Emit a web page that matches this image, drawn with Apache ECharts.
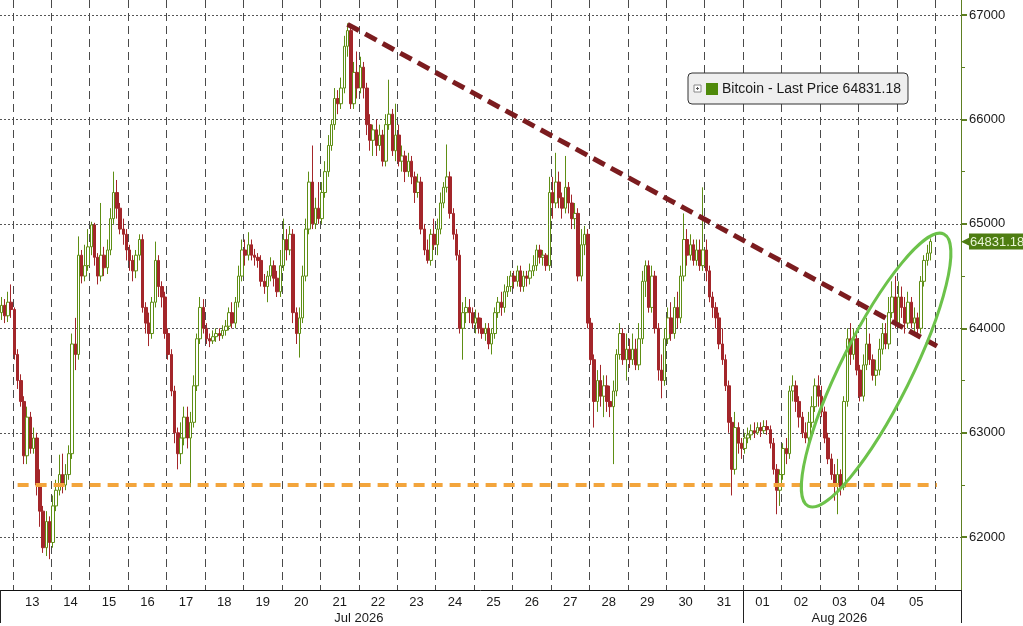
<!DOCTYPE html>
<html><head><meta charset="utf-8">
<script src="https://cdn.jsdelivr.net/npm/echarts@6/dist/echarts.min.js"></script>
<style>html,body{margin:0;padding:0;background:#fff}#c{width:1023px;height:626px}</style>
</head><body><div id="c"></div>
<script>
// 2-hour candles, each [open, close, low, high]
const jul12 = [[64150,64220,64080,64300],[64220,64120,64050,64280],[64120,64250,64060,64350],[64250,64180,64100,64420]];
const jul13 = [[64180,63750,63700,64200],[63750,63500,63420,63800],[63500,63300,63250,63560],[63300,62780,62700,63350],[62780,63150,62700,63250],[63150,62850,62800,63200],[62850,62950,62800,63050],[62950,62500,62400,63000],[62500,62250,62100,62650],[62250,61900,61850,62300],[61900,62150,61820,62250],[62150,61950,61790,62200]];
const jul14 = [[61950,62300,61900,62400],[62300,62450,62250,62550],[62450,62600,62400,62790],[62600,62500,62420,62800],[62500,62600,62450,62700],[62600,62800,62550,62880],[62800,63850,62750,63950],[63850,63750,63600,64100],[63750,64700,63700,64880],[64700,64500,64430,64750],[64500,64600,64450,64800],[64600,64780,64550,64950]];
const jul15 = [[64780,64990,64700,65020],[64990,64680,64600,65010],[64680,64500,64420,64720],[64500,64700,64450,65200],[64700,64580,64500,64780],[64580,64750,64520,64850],[64750,65050,64700,65150],[65050,65300,65000,65500],[65300,65150,65050,65420],[65150,64950,64900,65200],[64950,64900,64800,65050],[64900,64750,64650,64950]];
const jul16 = [[64750,64650,64550,64800],[64650,64550,64450,64700],[64550,64700,64480,64750],[64700,64850,64650,64900],[64850,64200,64150,64900],[64200,64050,63950,64250],[64050,63950,63830,64150],[63950,64250,63900,64300],[64250,64650,64200,64830],[64650,64400,64300,64700],[64400,64300,64200,64450],[64300,63950,63900,64350]];
const jul17 = [[63950,63750,63700,64000],[63750,63400,63350,63800],[63400,63000,62900,63450],[63000,62800,62650,63050],[62800,62950,62700,63100],[62950,63150,62880,63250],[63150,62950,62850,63250],[62950,63100,62480,63200],[63100,63450,63050,63550],[63450,63900,63400,63950],[63900,64200,63850,64300],[64200,64000,63950,64280]];
const jul18 = [[64000,63900,63850,64050],[63900,63880,63820,63950],[63880,63920,63850,63980],[63920,63950,63870,64000],[63950,63930,63880,64000],[63930,63980,63900,64030],[63980,64020,63930,64080],[64020,64150,63980,64200],[64150,64050,64000,64250],[64050,64250,64000,64300],[64250,64500,64200,64600],[64500,64750,64450,64850]];
const jul19 = [[64750,64700,64600,64850],[64700,64800,64650,64920],[64800,64700,64650,64850],[64700,64680,64600,64760],[64680,64650,64580,64720],[64650,64450,64400,64700],[64450,64400,64330,64520],[64400,64500,64250,64550],[64500,64600,64450,64680],[64600,64480,64400,64650],[64480,64350,64300,64550],[64350,64600,64300,64750]];
const jul20 = [[64600,64850,64550,65050],[64850,64750,64650,64950],[64750,64900,64700,64980],[64900,64150,64050,64950],[64150,63950,63850,64200],[63950,64100,63720,64200],[64100,64500,64050,64600],[64500,64950,64450,65050],[64950,65400,64900,65500],[65400,65000,64950,65750],[65000,65150,64950,65250],[65150,65050,65000,65400]];
const jul21 = [[65050,65300,65000,65400],[65300,65500,65250,65600],[65500,65750,65450,65850],[65750,65950,65700,66000],[65950,66200,65900,66300],[66200,66150,66050,66280],[66150,66300,66100,66400],[66300,66700,66250,66800],[66700,66850,66600,66920],[66850,66150,66100,66880],[66150,66450,66100,66550],[66450,66300,66200,66650]];
const jul22 = [[66300,66500,66250,66600],[66500,66300,66200,66550],[66300,65950,65850,66350],[65950,65800,65700,66050],[65800,65900,65650,65950],[65900,65750,65650,66000],[65750,65850,65700,65950],[65850,65600,65550,65900],[65600,65950,65550,66050],[65950,66050,65900,66380],[66050,65700,65650,66100],[65700,65850,65600,66150]];
const jul23 = [[65850,65600,65550,65950],[65600,65650,65500,65750],[65650,65500,65400,65700],[65500,65600,65450,65680],[65600,65450,65380,65650],[65450,65300,65200,65500],[65300,65400,65250,65480],[65400,64950,64900,65450],[64950,64750,64700,65000],[64750,64650,64620,64850],[64650,64900,64600,64950],[64900,64800,64750,65050]];
const jul24 = [[64800,64950,64700,65050],[64950,65200,64900,65300],[65200,65350,65150,65400],[65350,65450,65300,65760],[65450,65100,65050,65500],[65100,64900,64850,65150],[64900,64700,64650,64950],[64700,64000,63950,64750],[64000,64150,63700,64250],[64150,64200,64050,64300],[64200,64150,64050,64280],[64150,64050,64000,64200]];
const jul25 = [[64050,64100,63950,64180],[64100,64000,63950,64150],[64000,63950,63900,64100],[63950,64000,63880,64050],[64000,63850,63800,64050],[63850,63950,63750,64000],[63950,64150,63900,64200],[64150,64250,64100,64300],[64250,64200,64120,64350],[64200,64350,64150,64420],[64350,64400,64300,64500],[64400,64500,64350,64550]];
const jul26 = [[64500,64450,64380,64550],[64450,64550,64400,64600],[64550,64400,64350,64600],[64400,64500,64350,64550],[64500,64480,64400,64550],[64480,64550,64420,64620],[64550,64600,64500,64700],[64600,64750,64550,64800],[64750,64680,64620,64800],[64680,64700,64600,64750],[64700,64600,64550,64720],[64600,65300,64550,65450]];
const jul27 = [[65300,65200,65050,65450],[65200,65400,65150,65680],[65400,65250,65150,65500],[65250,65150,65050,65300],[65150,65350,65100,65650],[65350,65200,65100,65400],[65200,65050,64950,65280],[65050,65100,64950,65200],[65100,64500,64450,65150],[64500,64800,64450,64950],[64800,64900,64700,64980],[64900,64050,64000,64950]];
const jul28 = [[64050,63700,63650,64100],[63700,63300,63050,63750],[63300,63500,63200,63600],[63500,63350,63250,63650],[63350,63450,63150,63550],[63450,63300,63200,63550],[63300,63250,63150,63450],[63250,63400,62700,63500],[63400,63750,63350,63800],[63750,63950,63700,64050],[63950,63700,63650,64000],[63700,63800,63500,63950]];
const jul29 = [[63800,63700,63620,63900],[63700,63800,63650,63950],[63800,63650,63600,63900],[63650,63900,63600,64050],[63900,64450,63850,64550],[64450,64600,64300,64650],[64600,64200,64150,64650],[64200,64500,64150,64600],[64500,64000,63950,64550],[64000,63600,63500,64050],[63600,63500,63330,63750],[63500,63900,63450,64000]];
const jul30 = [[63900,64100,63850,64200],[64100,63950,63880,64250],[63950,64200,63900,64300],[64200,64100,64000,64350],[64100,64500,64050,64600],[64500,64850,64450,65100],[64850,64700,64600,64950],[64700,64800,64650,64900],[64800,64650,64600,64850],[64650,64750,64600,64850],[64750,64600,64550,64850],[64600,64750,64550,65350]];
const jul31 = [[64750,64550,64450,64850],[64550,64300,64250,64600],[64300,64200,64100,64350],[64200,64100,64000,64250],[64100,63850,63800,64150],[63850,63700,63650,64000],[63700,63450,63400,63750],[63450,63100,63000,63500],[63100,62650,62400,63150],[62650,63050,62600,63200],[63050,62900,62800,63100],[62900,62850,62750,62950]];
const aug01 = [[62850,62950,62800,63000],[62950,62980,62900,63050],[62980,63020,62930,63080],[63020,63000,62950,63100],[63000,63050,62980,63100],[63050,63020,62960,63100],[63020,63060,62990,63120],[63060,63030,62980,63120],[63030,62900,62850,63070],[62900,62650,62600,62950],[62650,62450,62220,62700],[62450,62600,62300,62650]];
const aug02 = [[62600,62850,62550,62900],[62850,62800,62700,62950],[62800,63400,62750,63450],[63400,63450,63300,63550],[63450,63300,63200,63500],[63300,63150,63050,63350],[63150,63000,62950,63200],[63000,62950,62900,63100],[62950,63100,62900,63200],[63100,63250,63050,63350],[63250,63450,63200,63520],[63450,63350,63250,63550]];
const aug03 = [[63350,63200,63150,63450],[63200,62950,62900,63250],[62950,62750,62700,63000],[62750,62600,62550,62800],[62600,62500,62350,62700],[62500,62600,62220,62750],[62600,62480,62400,62650],[62480,63300,62450,63350],[63300,63900,63250,64000],[63900,63750,63650,64050],[63750,63900,63700,64000],[63900,63600,63550,63950]];
const aug04 = [[63600,63350,63300,63650],[63350,63650,63300,63750],[63650,63850,63600,64100],[63850,63700,63650,63950],[63700,63550,63500,63750],[63550,63600,63450,63700],[63600,63800,63550,63900],[63800,63950,63750,64050],[63950,63850,63800,64050],[63850,64150,63800,64300],[64150,64300,64100,64450],[64300,64050,64000,64500]];
const aug05 = [[64050,64300,64000,64450],[64300,64200,64100,64400],[64200,64050,63950,64300],[64050,64250,64000,64350],[64250,64050,64000,64300],[64050,64100,63950,64200],[64100,64000,63950,64150],[64000,64450,63950,64500],[64450,64650,64400,64700],[64650,64720,64600,64800],[64720,64831.18,64650,64860]];

const dayNames = ['07-12','07-13','07-14','07-15','07-16','07-17','07-18','07-19','07-20','07-21','07-22','07-23','07-24','07-25','07-26','07-27','07-28','07-29','07-30','07-31','08-01','08-02','08-03','08-04','08-05'];
const dayData = [jul12,jul13,jul14,jul15,jul16,jul17,jul18,jul19,jul20,jul21,jul22,jul23,jul24,jul25,jul26,jul27,jul28,jul29,jul30,jul31,aug01,aug02,aug03,aug04,aug05];
const emptySlots = ['08-05 22:00','08-06 00:00','08-06 02:00','08-06 04:00','08-06 06:00','08-06 08:00','08-06 10:00','08-06 12:00','08-06 14:00'];
const monthLabels = {'07-22 00:00': 'Jul 2026', '08-03 12:00': 'Aug 2026'};
const monthBreak = '08-01 00:00';
const yTicks = [62000, 63000, 64000, 65000, 66000, 67000];
const yMinorTicks = [62500, 63500, 64500, 65500, 66500];
const trendLine = [['07-21 16:00', 66910], ['08-06 00:00', 63830]];
const supportLine = [['07-13 02:00', 62500], ['08-06 00:00', 62500]];
const breakoutCenter = ['08-04 10:00', 63600];
const seriesName = 'Bitcoin - Last Price';

const pad2 = n => (n < 10 ? '0' : '') + n;
const categories = [];
const ohlc = [];
dayData.forEach((arr, i) => {
  const startHour = i === 0 ? 24 - 2 * arr.length : 0;
  arr.forEach((c, k) => {
    categories.push(dayNames[i] + ' ' + pad2(startHour + 2 * k) + ':00');
    ohlc.push(c);
  });
});
emptySlots.forEach(s => categories.push(s));
const lastPrice = ohlc[ohlc.length - 1][1];

const GREEN = '#5e8e14', RED = '#a3262a', AXIS_G = '#5d7f22', FONT = 'Liberation Sans';

const chart = echarts.init(document.getElementById('c'), null, {renderer: 'canvas'});
chart.setOption({
  animation: false,
  backgroundColor: '#ffffff',
  textStyle: {fontFamily: FONT},
  grid: {left: 0, right: 62, top: 0, bottom: 33, containLabel: false},
  legend: {
    left: 688, top: 73, selectedMode: false, z: 5,
    backgroundColor: '#efefef', borderColor: '#333', borderWidth: 1, borderRadius: 4,
    padding: [9, 7, 8, 18], itemWidth: 12, itemHeight: 12, itemGap: 4,
    textStyle: {fontFamily: FONT, fontSize: 14, color: '#1a1a1a', padding: [1, 0, 0, -1]},
    data: [{name: seriesName, icon: 'rect', itemStyle: {color: '#4f8a0b', borderWidth: 0}}],
    formatter: n => n + ' ' + lastPrice.toFixed(2)
  },
  xAxis: {
    type: 'category', data: categories, boundaryGap: true,
    axisLine: {show: true, lineStyle: {color: '#111', width: 1}},
    axisTick: {show: true, length: 33, interval: (i, v) => i === 0 || v === monthBreak, lineStyle: {color: '#222', width: 1}},
    axisLabel: {
      interval: (i, v) => i < ohlc.length && (v.slice(6) === '12:00' || monthLabels[v] !== undefined),
      formatter: v => {
        const day = v.slice(6) === '12:00' ? v.slice(3, 5) : ' ';
        return monthLabels[v] ? day + '\n' + monthLabels[v] : day;
      },
      color: '#1a1a1a', fontSize: 13, fontFamily: FONT, margin: 4, lineHeight: 16,
      padding: [0, 3, 0, 0]
    },
    splitLine: {show: true, interval: (i, v) => v.slice(6) === '00:00', lineStyle: {color: '#4a4a4a', width: 1, type: [8, 5]}}
  },
  yAxis: [{
    type: 'value', position: 'right', min: 61495, max: 67143, scale: true,
    axisLine: {show: true, lineStyle: {color: AXIS_G, width: 1}},
    axisTick: {show: true, length: 6, customValues: yTicks, lineStyle: {color: AXIS_G, width: 2}},
    axisLabel: {show: true, customValues: yTicks, formatter: v => String(v), color: '#1a1a1a', fontSize: 13, fontFamily: FONT, margin: 8},
    splitLine: {show: true, lineStyle: {color: '#555', width: 1, type: [2, 2]}}
  }, {
    type: 'value', position: 'right', min: 61495, max: 67143, scale: true,
    axisLine: {show: false},
    axisTick: {show: true, length: 4, customValues: yMinorTicks, lineStyle: {color: AXIS_G, width: 1}},
    axisLabel: {show: false}, splitLine: {show: false}
  }],
  series: [{
    name: seriesName, type: 'candlestick', data: ohlc, barWidth: 3, clip: false,
    itemStyle: {color: '#ffffff', color0: RED, borderColor: GREEN, borderColor0: RED, borderWidth: 1},
    markLine: {
      silent: true, symbol: ['none', 'none'], animation: false,
      data: [
        [{coord: trendLine[0], lineStyle: {color: '#7b1c1f', width: 5, type: [13, 7]}, label: {show: false}}, {coord: trendLine[1]}],
        [{coord: supportLine[0], lineStyle: {color: '#f3a53c', width: 4, type: [11, 7]}, label: {show: false}}, {coord: supportLine[1]}],
        {yAxis: lastPrice, lineStyle: {color: 'rgba(0,0,0,0)', width: 1}, label: {
          show: true, position: 'end', distance: 0,
          formatter: () => '{a|◀}{b|' + lastPrice.toFixed(2) + '}',
          rich: {
            a: {color: '#4e7d12', fontSize: 13, fontFamily: 'DejaVu Sans', padding: [0, -2, 0, 0]},
            b: {color: '#e9f5d6', backgroundColor: '#4e7d12', fontSize: 13, fontFamily: FONT, padding: [2, 2, 1, 1]}
          }
        }}
      ]
    }
  }]
});

const cIdx = categories.indexOf(breakoutCenter[0]);
const ctr = chart.convertToPixel({xAxisIndex: 0, yAxisIndex: 0}, [cIdx, breakoutCenter[1]]);
chart.setOption({
  graphic: [
    {type: 'ellipse', x: ctr[0], y: ctr[1], rotation: 63.5 * Math.PI / 180,
     shape: {cx: 0, cy: 0, rx: 152, ry: 35}, silent: true, z: 100,
     style: {fill: 'none', stroke: '#6cc24a', lineWidth: 3}},
    {type: 'rect', x: 694, y: 85, z: 110, silent: true, shape: {x: 0, y: 0, width: 7, height: 7}, style: {fill: '#ffffff', stroke: '#888', lineWidth: 1}},
    {type: 'line', x: 694, y: 85, z: 111, silent: true, shape: {x1: 2, y1: 3.5, x2: 5, y2: 3.5}, style: {stroke: '#555', lineWidth: 1}},
    {type: 'line', x: 694, y: 85, z: 111, silent: true, shape: {x1: 3.5, y1: 2, x2: 3.5, y2: 5}, style: {stroke: '#555', lineWidth: 1}}
  ]
});
</script></body></html>
